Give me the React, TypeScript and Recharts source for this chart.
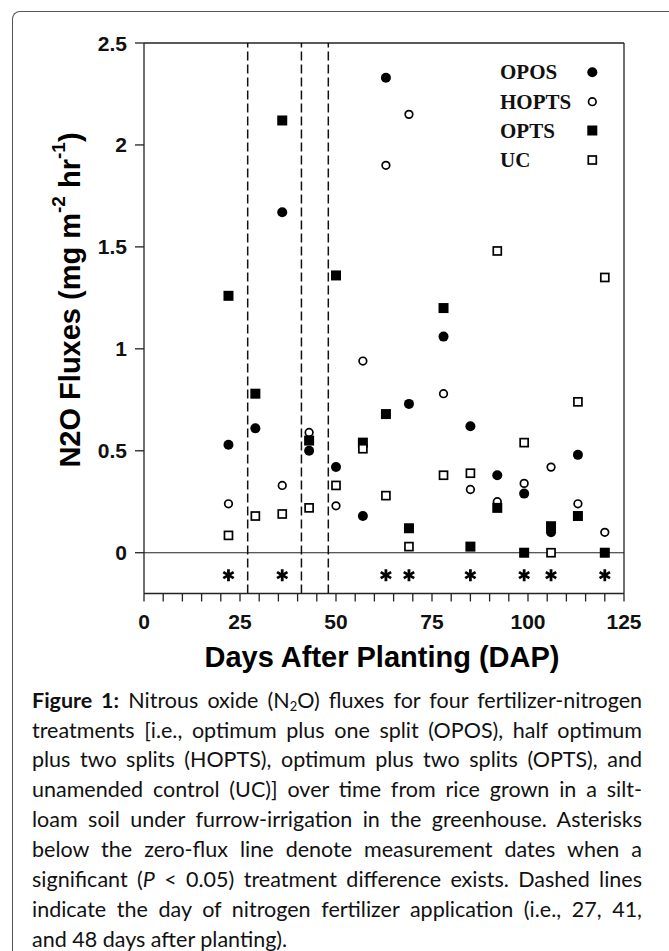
import React from "react";
import { ScatterChart, Scatter, XAxis, YAxis, ReferenceLine } from "recharts";

const days = [22, 29, 36, 43, 50, 57, 63, 69, 78, 85, 92, 99, 106, 113, 120];
const opos: (number | null)[] = [0.53, 0.61, 1.67, 0.5, 0.42, 0.18, 2.33, 0.73, 1.06, 0.62, 0.38, 0.29, 0.1, 0.48, null];
const hopts: (number | null)[] = [0.24, null, 0.33, 0.59, 0.23, 0.94, 1.9, 2.15, 0.78, 0.31, 0.25, 0.34, 0.42, 0.24, 0.1];
const opts: (number | null)[] = [1.26, 0.78, 2.12, 0.55, 1.36, 0.54, 0.68, 0.12, 1.2, 0.03, 0.22, 0.0, 0.13, 0.18, 0.0];
const uc: (number | null)[] = [0.085, 0.18, 0.19, 0.22, 0.33, 0.51, 0.28, 0.03, 0.38, 0.39, 1.48, 0.54, 0.0, 0.74, 1.35];
const sigDays = [22, 36, 63, 69, 85, 99, 106, 120];
const sigLevel = -0.11;
const fertDays = [27, 41, 48];
const xTicks = [0, 5, 10, 15, 20, 25, 30, 35, 40, 45, 50, 55, 60, 65, 70, 75, 80, 85, 90, 95, 100, 105, 110, 115, 120, 125];
const xLabelTicks = [0, 25, 50, 75, 100, 125];
const yTicks = [0, 0.5, 1, 1.5, 2, 2.5];
const legendNames = ["OPOS", "HOPTS", "OPTS", "UC"];

const toPts = (vals: (number | null)[]) =>
  days.map((d, i) => ({ x: d, y: vals[i] })).filter((p) => p.y !== null);

const sansBold = "'Liberation Sans', Arial, sans-serif";

const FilledCircle = (p: any) => <circle cx={p.cx} cy={p.cy} r={5} fill="#000" />;
const OpenCircle = (p: any) => (
  <circle cx={p.cx} cy={p.cy} r={3.8} fill="#fff" stroke="#000" strokeWidth={1.7} />
);
const FilledSquare = (p: any) => <rect x={p.cx - 5} y={p.cy - 5} width={10} height={10} fill="#000" />;
const OpenSquare = (p: any) => (
  <rect x={p.cx - 4} y={p.cy - 4} width={8} height={8} fill="#fff" stroke="#000" strokeWidth={1.7} />
);
const Asterisk = (p: any) => {
  const r = 6;
  const c = r * Math.cos(Math.PI / 6);
  const s = r * Math.sin(Math.PI / 6);
  return (
    <g stroke="#000" strokeWidth={2.8} strokeLinecap="butt">
      <line x1={p.cx} y1={p.cy - r} x2={p.cx} y2={p.cy + r} />
      <line x1={p.cx - c} y1={p.cy - s} x2={p.cx + c} y2={p.cy + s} />
      <line x1={p.cx - c} y1={p.cy + s} x2={p.cx + c} y2={p.cy - s} />
    </g>
  );
};

const XTick = (props: any) => {
  const { x, y, payload } = props;
  if (!xLabelTicks.includes(payload.value)) return <g />;
  return (
    <text x={x} y={y + 25.5} textAnchor="middle" fontFamily={sansBold} fontWeight="bold" fontSize={21} fill="#111">
      {payload.value}
    </text>
  );
};

const YTick = (props: any) => {
  const { x, y, payload } = props;
  return (
    <text x={x} y={y + 7.5} textAnchor="end" fontFamily={sansBold} fontWeight="bold" fontSize={21} fill="#111">
      {payload.value}
    </text>
  );
};

const legendShapes = [FilledCircle, OpenCircle, FilledSquare, OpenSquare];
const legendY = [72.3, 101.7, 130.5, 160];

const captionLines: React.ReactNode[] = [
  <>
    <b>Figure 1:</b> Nitrous oxide (N<sub style={{ fontSize: "0.6em", verticalAlign: "-0.25em", lineHeight: 0 }}>2</sub>O) fluxes for four fertilizer-nitrogen
  </>,
  <>treatments [i.e., optimum plus one split (OPOS), half optimum</>,
  <>plus two splits (HOPTS), optimum plus two splits (OPTS), and</>,
  <>unamended control (UC)] over time from rice grown in a silt-</>,
  <>loam soil under furrow-irrigation in the greenhouse. Asterisks</>,
  <>below the zero-flux line denote measurement dates when a</>,
  <>
    significant (<i>P</i> &lt; 0.05) treatment difference exists. Dashed lines
  </>,
  <>indicate the day of nitrogen fertilizer application (i.e., 27, 41,</>,
];
const captionLast = "and 48 days after planting).";

export default function App() {
  return (
    <div style={{ position: "absolute", left: 0, top: 0, width: 669, height: 951, background: "#fff", overflow: "hidden" }}>
      <div
        style={{
          position: "absolute",
          left: 12,
          top: 11,
          width: 700,
          height: 1000,
          borderLeft: "1.5px solid #555",
          borderTop: "1.5px solid #555",
          borderTopLeftRadius: 8,
          boxSizing: "border-box",
        }}
      />
      <div style={{ position: "absolute", left: 0, top: 0 }}>
        <ScatterChart width={669} height={660} margin={{ top: 43, right: 45, bottom: 0, left: 0 }}>
          <XAxis
            type="number"
            dataKey="x"
            domain={[0, 125]}
            ticks={xTicks}
            interval={0}
            height={66.5}
            tickSize={8}
            tickMargin={2}
            tick={<XTick />}
            axisLine={{ stroke: "#222", strokeWidth: 1.3 }}
            tickLine={{ stroke: "#222", strokeWidth: 1.3 }}
            allowDataOverflow
          />
          <YAxis
            type="number"
            dataKey="y"
            domain={[-0.2, 2.5]}
            ticks={yTicks}
            interval={0}
            width={144}
            tickSize={9}
            tickMargin={8}
            tick={<YTick />}
            axisLine={{ stroke: "#222", strokeWidth: 1.3 }}
            tickLine={{ stroke: "#222", strokeWidth: 1.3 }}
            allowDataOverflow
          />
          <ReferenceLine y={2.5} stroke="#222" strokeWidth={1.3} />
          <ReferenceLine x={125} stroke="#222" strokeWidth={1.3} />
          <ReferenceLine y={0} stroke="#222" strokeWidth={1.1} />
          {fertDays.map((d) => (
            <ReferenceLine key={d} x={d} stroke="#111" strokeWidth={1.5} strokeDasharray="9 4" />
          ))}
          <Scatter name="OPOS" data={toPts(opos)} shape={FilledCircle} isAnimationActive={false} />
          <Scatter name="HOPTS" data={toPts(hopts)} shape={OpenCircle} isAnimationActive={false} />
          <Scatter name="OPTS" data={toPts(opts)} shape={FilledSquare} isAnimationActive={false} />
          <Scatter name="UC" data={toPts(uc)} shape={OpenSquare} isAnimationActive={false} />
          <Scatter
            name="sig"
            data={sigDays.map((d) => ({ x: d, y: sigLevel }))}
            shape={Asterisk}
            isAnimationActive={false}
          />
        </ScatterChart>
      </div>
      <svg
        width={669}
        height={700}
        style={{ position: "absolute", left: 0, top: 0, pointerEvents: "none" }}
      >
        {legendNames.map((n, i) => {
          const Shape = legendShapes[i];
          return (
            <g key={n}>
              <text
                x={500}
                y={legendY[i] + 7}
                fontFamily="'Liberation Serif', 'Times New Roman', serif"
                fontWeight="bold"
                fontSize={21}
                fill="#111"
              >
                {n}
              </text>
              <Shape cx={592.3} cy={legendY[i]} />
            </g>
          );
        })}
        <text x={382} y={666.5} textAnchor="middle" fontFamily={sansBold} fontWeight="bold" fontSize={29} fill="#000">
          Days After Planting (DAP)
        </text>
        <text
          x={80}
          y={300}
          textAnchor="middle"
          transform="rotate(-90 80 300)"
          fontFamily={sansBold}
          fontWeight="bold"
          fontSize={29}
          fill="#000"
        >
          N2O Fluxes (mg m
          <tspan fontSize={19} dy={-15}>-2</tspan>
          <tspan dy={15}> hr</tspan>
          <tspan fontSize={19} dy={-15}>-1</tspan>
          <tspan dy={15}>)</tspan>
        </text>
      </svg>
      <div
        style={{
          position: "absolute",
          left: 32,
          top: 685.7,
          width: 610,
          fontFamily: "Lato, 'Open Sans', sans-serif",
          fontSize: 21.5,
          lineHeight: "29.9px",
          color: "#111",
        }}
      >
        {captionLines.map((l, i) => (
          <div key={i} style={{ textAlign: "justify", textAlignLast: "justify", height: 29.9, overflow: "visible" }}>
            {l}
          </div>
        ))}
        <div style={{ height: 29.9 }}>{captionLast}</div>
      </div>
    </div>
  );
}
